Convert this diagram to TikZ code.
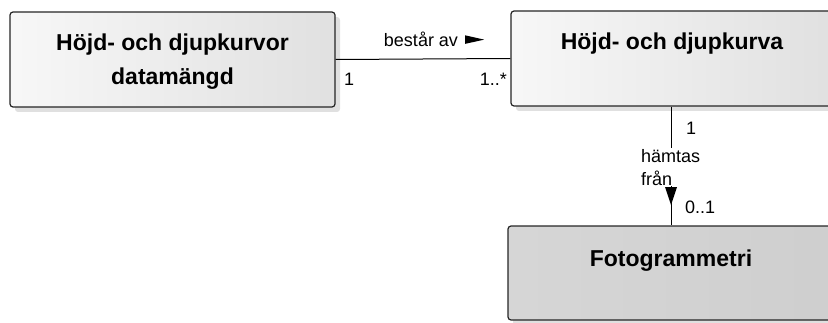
\documentclass[tikz,border=0pt]{standalone}
\usepackage{fontspec}
\setmainfont{Liberation Sans}
\usetikzlibrary{positioning,shadows}

\tikzset{
  classbox/.style={draw=black!85, line width=1.2pt, rounded corners=3pt,
    minimum height=95pt, inner sep=0pt,
    drop shadow={shadow xshift=5pt, shadow yshift=-5pt, fill=black!12, opacity=1}},
  lightbox/.style={classbox, left color=black!3, right color=black!12},
  darkbox/.style={classbox, left color=black!16, right color=black!19},
  classname/.style={inner sep=0pt, align=center, font=\bfseries\fontsize{23}{34}\selectfont},
  rolelabel/.style={inner sep=0pt, font=\fontsize{18}{23}\selectfont},
}

\begin{document}
\begin{tikzpicture}[x=1pt, y=1pt]
  \useasboundingbox (0,0) rectangle (828,322);

  % Classes
  \node[lightbox, minimum width=325pt] (datamangd) at (172.5,262.5) {};
  \node[classname, below=22pt of datamangd.north] (datamangdname) {Höjd- och djupkurvor\\datamängd};

  \node[lightbox, minimum width=322pt] (kurva) at (672,263.5) {};
  \node[classname, below=22pt of kurva.north] (kurvaname) {Höjd- och djupkurva};

  \node[darkbox, minimum width=326pt, minimum height=94pt] (foto) at (671,49) {};
  \node[classname, below=24pt of foto.north] (fotoname) {Fotogrammetri};

  % Association: består av
  \draw[line width=1pt] (datamangd.east) -- (kurva.west);
  \node[rolelabel, anchor=base] (bestar) at (421,275) {består av};
  \fill ([xshift=7pt,yshift=4.5pt]bestar.east) -- ++(0,-8.5) -- ++(19,4.2) -- cycle;
  \node[rolelabel, anchor=base west] (multa) at (344,236) {1};
  \node[rolelabel, anchor=base east] (multb) at (507,236) {1..*};

  % Association: hämtas från
  \draw[line width=1pt] (kurva.south -| foto.north) -- (foto.north);
  \node[rolelabel, anchor=base west] (multc) at (686,187) {1};
  \node[rolelabel, align=left, anchor=base west, fill=white, inner sep=1pt] (hamtas) at (640,137) {hämtas\\från};
  \fill (665,135) -- (677,135) -- (671,117) -- cycle;
  \node[rolelabel, anchor=base west] (multd) at (685,109) {0..1};
\end{tikzpicture}
\end{document}
